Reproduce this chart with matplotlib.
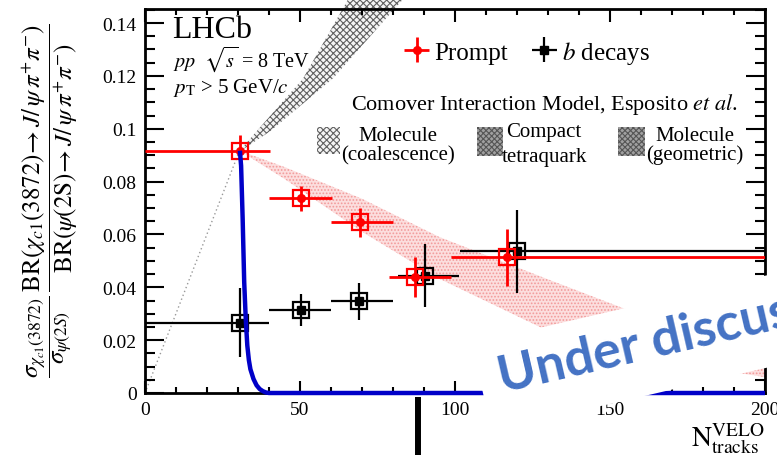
import matplotlib
matplotlib.use('Agg')
import matplotlib.pyplot as plt
from matplotlib.lines import Line2D
from matplotlib.patches import Rectangle
from matplotlib.ticker import FixedLocator, FixedFormatter, MultipleLocator

# ---------------- data ----------------
prompt_x = [30.5, 50.3, 69.5, 87.2, 116.9]
prompt_y = [0.0917, 0.0737, 0.0646, 0.0440, 0.0513]
prompt_x_low = [0.0, 40.0, 60.0, 78.7, 98.6]
prompt_x_high = [40.3, 60.3, 80.0, 98.6, 200.0]
prompt_y_err = [0.0058, 0.0047, 0.0055, 0.0075, 0.0108]

bdec_x = [30.8, 50.3, 69.1, 90.3, 119.9]
bdec_y = [0.0266, 0.0314, 0.0347, 0.0444, 0.0536]
bdec_x_low = [0.0, 40.0, 60.0, 81.7, 101.6]
bdec_x_high = [40.0, 60.0, 80.0, 101.4, 200.0]
bdec_y_err = [0.0130, 0.0060, 0.0070, 0.0120, 0.0157]

# blue model curve
blue_x = [30.6, 31.0, 31.5, 32.0, 32.5, 33.0, 33.5, 34.0, 35.0, 36.0, 37.0, 38.0, 39.0, 40.0, 200.0]
blue_y = [0.0917, 0.0860, 0.0660, 0.0420, 0.0280, 0.0180, 0.0125, 0.0090, 0.0053, 0.0029, 0.0015, 0.0007, 0.0002, 0.0, 0.0]

# molecule (coalescence) band and its line from the origin
coal_line_x = [0.0, 30.5]
coal_line_y = [0.0, 0.0917]
coal_y = [0.0917, 0.0990, 0.1190, 0.1500]
coal_x_left = [30.5, 36.0, 51.0, 66.0]
coal_x_right = [31.0, 40.3, 60.6, 84.0]

# pink band
pink_x = [30.5, 45.0, 70.0, 95.0, 130.0, 160.0, 200.0]
pink_upper = [0.0917, 0.0855, 0.0735, 0.0590, 0.0430, 0.0295, 0.0160]
pink_lower = [0.0917, 0.0810, 0.0610, 0.0432, 0.0235, 0.0135, 0.0060]

x_ticks = [0, 50, 100, 150, 200]
x_tick_labels = ['0', '50', '100', '150', '200']
y_ticks = [0, 0.02, 0.04, 0.06, 0.08, 0.1, 0.12, 0.14]
y_tick_labels = ['0', '0.02', '0.04', '0.06', '0.08', '0.1', '0.12', '0.14']

# ---------------- style ----------------
plt.rcParams['font.family'] = ['Liberation Serif', 'DejaVu Serif']
plt.rcParams['mathtext.fontset'] = 'stix'
plt.rcParams['hatch.linewidth'] = 0.8

W, H = 777, 456
fig = plt.figure(figsize=(W / 100, H / 100), dpi=100)
ax = fig.add_axes([145 / W, 1 - 394 / H, 620 / W, 384 / H])
ax.set_xlim(0, 200)
ax.set_ylim(0, 0.1453)

# pink band
ax.fill_between(pink_x, pink_lower, pink_upper, facecolor='#fcdede',
                edgecolor='#f29a9a', hatch='.....', linewidth=0, zorder=1)

# coalescence band (crosshatched gray) + dotted line
ax.fill_betweenx(coal_y, coal_x_left, coal_x_right, facecolor='#f4f4f4',
                 edgecolor='#5f5f5f', hatch='xxxxx', linewidth=0, zorder=1,
                 clip_on=False)
ax.plot(coal_line_x, coal_line_y, color='#999999', ls=(0, (1, 2)), lw=1.0, zorder=1)

# blue curve
ax.plot(blue_x, blue_y, color='#0000c8', lw=3.2, zorder=6, clip_on=False,
        solid_capstyle='butt', solid_joinstyle='round')

# b decays
b_xerr = [[x - lo for x, lo in zip(bdec_x, bdec_x_low)],
          [hi - x for x, hi in zip(bdec_x, bdec_x_high)]]
h_b = ax.errorbar(bdec_x, bdec_y, xerr=b_xerr, yerr=bdec_y_err, fmt='s',
                  color='black', ms=5.5, elinewidth=1.6, capsize=0, zorder=4)
ax.plot(bdec_x, bdec_y, 's', ms=11, mfc='none', mec='black', mew=1.6, zorder=4)

# prompt
p_xerr = [[x - lo for x, lo in zip(prompt_x, prompt_x_low)],
          [hi - x for x, hi in zip(prompt_x, prompt_x_high)]]
h_p = ax.errorbar(prompt_x, prompt_y, xerr=p_xerr, yerr=prompt_y_err, fmt='o',
                  color='#ff0000', ms=5.5, elinewidth=2.0, capsize=0, zorder=5)
ax.plot(prompt_x, prompt_y, 's', ms=11, mfc='none', mec='#ff0000', mew=1.6, zorder=5)

# axes styling
for s in ax.spines.values():
    s.set_linewidth(2.0)
ax.xaxis.set_major_locator(FixedLocator(x_ticks))
ax.xaxis.set_major_formatter(FixedFormatter(x_tick_labels))
ax.xaxis.set_minor_locator(MultipleLocator(10))
ax.yaxis.set_major_locator(FixedLocator(y_ticks))
ax.yaxis.set_major_formatter(FixedFormatter(y_tick_labels))
ax.yaxis.set_minor_locator(MultipleLocator(0.005))
ax.tick_params(which='both', direction='in', top=True, right=True, width=1.5,
               labelsize=14)
ax.tick_params(axis='y', which='major', length=14, pad=6)
ax.tick_params(axis='y', which='minor', length=7)
ax.tick_params(axis='x', which='major', length=9, pad=6)
ax.tick_params(axis='x', which='minor', length=4.5)

# legend for data
leg = ax.legend([h_p, h_b], ['Prompt', '$b$ decays'], ncol=2, frameon=False,
                loc='center left', bbox_to_anchor=(0.42, 0.888), fontsize=18,
                handlelength=0.9, handletextpad=0.25, columnspacing=1.0,
                borderpad=0, borderaxespad=0)

# texts
ax.text(0.0435, 0.927, 'LHCb', transform=ax.transAxes, fontsize=23, va='baseline')
ax.text(0.045, 0.852, r'$pp\ \ \sqrt{s}$ = 8 TeV', transform=ax.transAxes,
        fontsize=14.5, va='baseline')
ax.text(0.045, 0.784, r'$p_{\mathrm{T}}$ > 5 GeV/$c$', transform=ax.transAxes,
        fontsize=15, va='baseline')
ax.text(0.956, 0.7396, r'Comover Interaction Model, Esposito $et\ al$.',
        transform=ax.transAxes, fontsize=16, va='baseline', ha='right')

# model legend swatches
ax.add_patch(Rectangle((0.2774, 0.6224), 0.0371, 0.0703, transform=ax.transAxes,
                       facecolor='#f4f4f4', edgecolor='#5f5f5f', hatch='xxxxx',
                       linewidth=0))
ax.add_patch(Rectangle((0.5355, 0.617), 0.0419, 0.0757, transform=ax.transAxes,
                       facecolor='#a0a0a0', edgecolor='#555555', hatch='xxxxxx',
                       linewidth=0))
ax.add_patch(Rectangle((0.763, 0.617), 0.043, 0.0757, transform=ax.transAxes,
                       facecolor='#a0a0a0', edgecolor='#555555', hatch='xxxxxx',
                       linewidth=0))
for xc, l1, l2, y1, y2 in [(0.408, 'Molecule', '(coalescence)', 0.659, 0.609),
                           (0.6435, 'Compact', 'tetraquark', 0.669, 0.604),
                           (0.887, 'Molecule', '(geometric)', 0.659, 0.609)]:
    ax.text(xc, y1, l1, transform=ax.transAxes, fontsize=15, ha='center', va='baseline')
    ax.text(xc, y2, l2, transform=ax.transAxes, fontsize=15, ha='center', va='baseline')

# axis labels
fig.text(50 / W, 1 - 201 / H,
         r'$\dfrac{\sigma_{\chi_{c1}(3872)}}{\sigma_{\psi(2S)}}\,'
         r'\dfrac{\mathrm{BR}(\chi_{c1}(3872)\!\rightarrow J/\,\psi\,\pi^{+}\pi^{-})}'
         r'{\mathrm{BR}(\psi(2\mathrm{S})\!\rightarrow J/\,\psi\,\pi^{+}\pi^{-})}$',
         rotation=90, ha='center', va='center', fontsize=18)
fig.text(765 / W, 1 - 447 / H, r'$\mathrm{N}_{\mathrm{tracks}}^{\mathrm{VELO}}$',
         ha='right', va='baseline', fontsize=20)

# overlay: thick bar below the axis
fig.add_artist(Line2D([418 / W, 418 / W], [0, 1 - 398 / H], color='black', lw=4.3,
                      solid_capstyle='butt'))

# overlay: white rotated box + "Under discussion" watermark (in inches)
angle = 13
fig.add_artist(Rectangle((491.8 / 100, (H - 432.2) / 100), 4.0, 0.90, angle=angle,
                         transform=fig.dpi_scale_trans, facecolor='white',
                         edgecolor='none', zorder=9))
fig.text(502 / W, 1 - 393 / H, 'Under discussion', rotation=angle, rotation_mode='anchor',
         ha='left', va='baseline', fontsize=37.5, fontweight='bold', family='Lato',
         color='#4472c4', zorder=10)

fig.savefig('out.png', dpi=100)
